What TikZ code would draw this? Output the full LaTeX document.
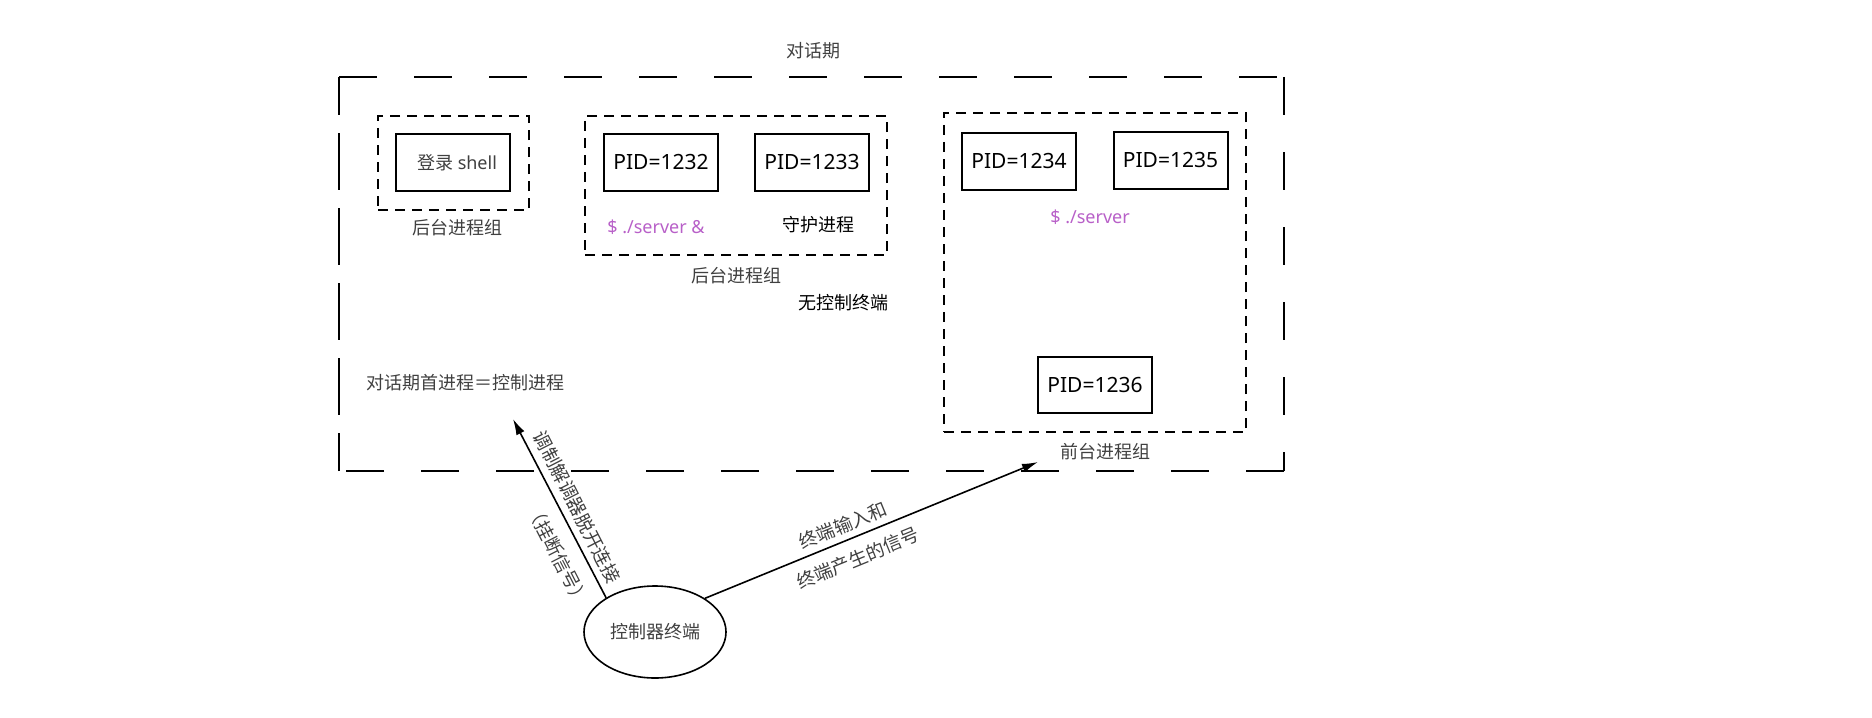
\documentclass[tikz,border=0pt]{standalone}
\usepackage{fontspec}
\setmainfont{Noto Sans}
\newfontfamily\cjk{Noto Sans CJK SC}
\usetikzlibrary{arrows.meta,shapes.geometric}
\definecolor{purp}{RGB}{184,96,200}
\definecolor{txtgray}{RGB}{64,64,64}
\begin{document}
\begin{tikzpicture}[x=0.5pt,y=-0.5pt,
  pidbox/.style={draw, line width=1pt, minimum width=57pt, minimum height=28.5pt, inner sep=0pt, font=\fontsize{10.5}{12}\selectfont},
  grpbox/.style={draw, line width=0.8pt, dash pattern=on 5pt off 3.5pt, minimum width=#1, inner sep=0pt},
  outerdash/.style={line width=1.1pt, dash pattern=on 19pt off 18.5pt},
  cjktext/.style={font=\cjk\fontsize{9}{11}\selectfont, inner sep=0pt},
  srvtext/.style={font=\fontsize{9}{11}\selectfont, text=purp, inner sep=0pt},
  arrowline/.style={line width=0.8pt, -{Latex[length=8pt,width=4.5pt]}}
]
\useasboundingbox (0,0) rectangle (1872,717);
% outer session box
\coordinate (otl) at (339,77);
\coordinate (otr) at (1284,77);
\coordinate (obr) at (1284,471);
\coordinate (obl) at (339,471);
\draw[outerdash] (otl) -- (otr);
\draw[outerdash] (otr) -- (obr);
\draw[outerdash] (obr) -- (obl);
\draw[outerdash] (obl) -- (otl);
\draw[outerdash] (otl) -- (obl);
\node[cjktext, text=txtgray] (title) at (813,51) {对话期};
% login shell group
\node[grpbox=75.5pt, minimum height=47pt] (g1) at (453.5,163) {};
\node[pidbox, font=\fontsize{9}{11}\selectfont, text=txtgray] (shell) at (453,162.5) {\hspace{4pt}{\cjk 登录} shell};
\node[cjktext, text=txtgray] (lbl1) at (457,228) {后台进程组};
% background group with server
\node[grpbox=151pt, minimum height=69.5pt] (g2) at (736,185.5) {};
\node[pidbox] (p1232) at (661,162.5) {PID=1232};
\node[pidbox] (p1233) at (812,162) {PID=1233};
\node[srvtext] (srv1) at (656,227) {\$ ./server \&};
\node[cjktext] (daemon) at (818,225) {守护进程};
\node[cjktext, text=txtgray] (lbl2) at (736,276) {后台进程组};
\node[cjktext] (noctl) at (843,303) {无控制终端};
% foreground group
\node[grpbox=151pt, minimum height=159.5pt] (g3) at (1095,272.5) {};
\node[pidbox] (p1234) at (1019,161) {PID=1234};
\node[pidbox] (p1235) at (1170.5,160.5) {PID=1235};
\node[srvtext] (srv2) at (1090,217) {\$ ./server};
\node[pidbox, minimum height=28pt] (p1236) at (1095,385) {PID=1236};
\node[cjktext, text=txtgray] (lbl3) at (1105,452) {前台进程组};
% session leader
\node[cjktext, text=txtgray] (leader) at (465,383) {对话期首进程＝控制进程};
% controlling terminal
\node[draw, ellipse, line width=0.8pt, minimum width=71pt, minimum height=46pt, inner sep=0pt, cjktext, text=txtgray] (term) at (655,632) {控制器终端};
\coordinate (tip1) at (513,419);
\coordinate (tip2) at (1038,462);
\draw[arrowline] (term.145) -- (tip1);
\draw[arrowline] (term.34) -- (tip2);
\node[cjktext, font=\cjk\fontsize{9.3}{11}\selectfont, rotate=-62.9, text=txtgray] (hang1) at (577,507) {调制解调器脱开连接};
\node[cjktext, font=\cjk\fontsize{9.3}{11}\selectfont, rotate=-62.9, text=txtgray] (hang2) at (558,555) {（挂断信号）};
\node[cjktext, font=\cjk\fontsize{9.3}{11}\selectfont, rotate=22.2, text=txtgray] (sig1) at (843,525) {终端输入和};
\node[cjktext, font=\cjk\fontsize{9.3}{11}\selectfont, rotate=22.2, text=txtgray] (sig2) at (858,558) {终端产生的信号};
\end{tikzpicture}
\end{document}
